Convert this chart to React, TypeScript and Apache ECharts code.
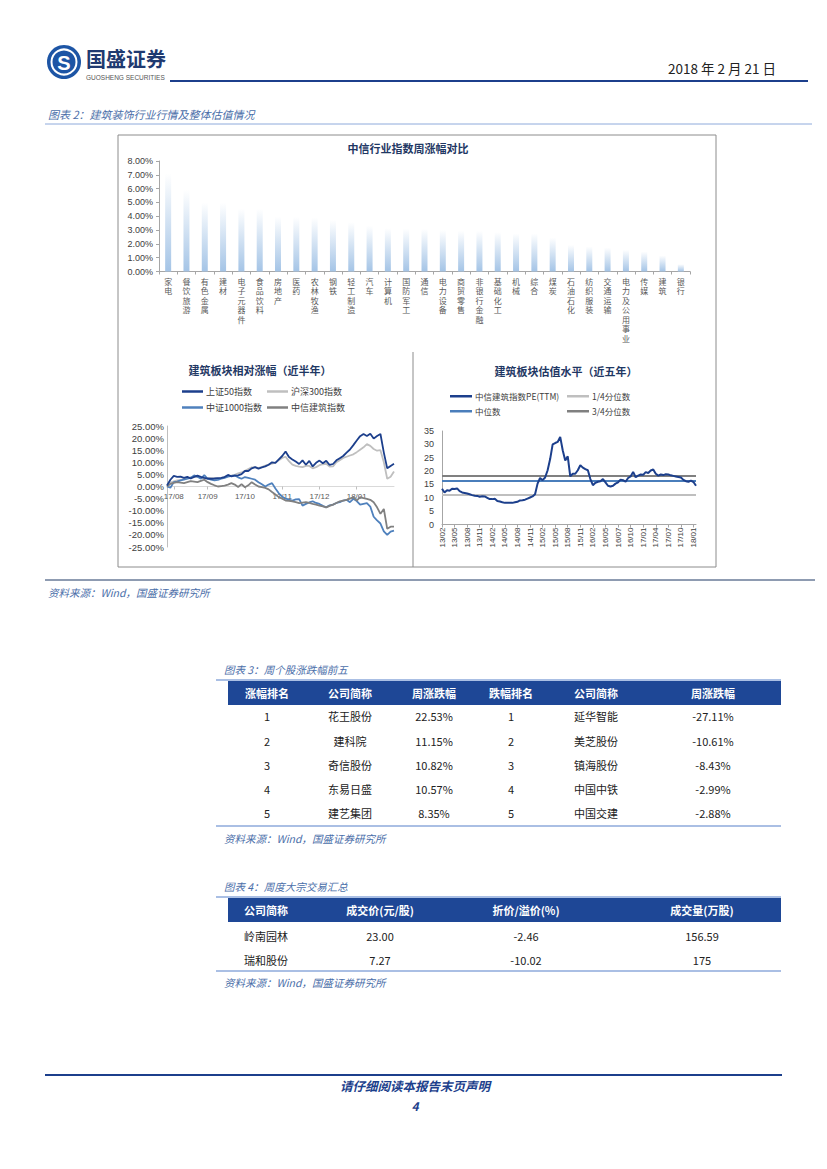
import React, { useEffect, useRef } from 'react';
import * as echarts from 'echarts';

// ---------- data ----------
const barCategories = ['家电','餐饮旅游','有色金属','建材','电子元器件','食品饮料','房地产','医药','农林牧渔','钢铁','轻工制造','汽车','计算机','国防军工','通信','电力设备','商贸零售','非银行金融','基础化工','机械','综合','煤炭','石油石化','纺织服装','交通运输','电力及公用事业','传媒','建筑','银行'];
const barValues = [7.11,5.90,5.00,4.98,4.56,4.53,3.97,3.95,3.90,3.73,3.57,3.32,3.13,3.10,3.08,3.01,2.95,2.94,2.85,2.76,2.75,2.46,1.93,1.81,1.73,1.57,1.45,1.16,0.53];

const relNames = ['上证50指数','沪深300指数','中证1000指数','中信建筑指数'];
const sz50 = [0.4,2.8,4.4,4.0,4.1,3.6,4.0,3.3,4.0,4.5,4.0,3.6,3.3,3.2,3.3,3.5,3.6,3.9,4.8,4.2,4.5,4.6,5.1,6.4,6.4,7.5,8.0,7.4,7.9,8.3,9.0,10.0,9.8,11.2,12.6,14.5,12.2,11.2,10.3,9.3,10.8,9.0,10.6,8.3,9.8,10.7,9.6,10.6,8.9,9.3,10.8,11.7,12.6,14.0,15.3,17.1,19.0,20.8,21.7,20.9,21.8,19.8,20.9,21.7,14.0,7.5,8.5,9.4];
const hs300 = [0,1.6,2.1,2.5,2.7,3.1,3.4,3.8,3.9,4.1,3.8,3.3,3.3,3.5,3.4,3.2,3.5,4.0,4.3,4.5,4.8,5.4,5.8,6.5,7.2,7.9,7.9,7.7,8.0,8.6,9.0,9.4,9.9,10.8,11.8,12.3,10.5,9.0,8.5,8.2,8.0,8.5,8.5,7.5,8.0,8.8,9.2,9.4,8.2,8.3,10.0,10.9,11.8,12.3,12.8,13.3,14.2,15.2,16.2,17.5,16.8,15.5,14.8,15.0,10.0,3.2,4.0,6.2];
const csi1000 = [0,-0.5,1.8,2.0,2.5,2.8,3.2,3.6,4.6,4.0,3.2,4.7,3.2,2.8,2.5,2.7,3.2,3.6,4.1,4.4,4.6,3.8,3.2,3.9,3.6,3.2,2.8,1.8,0.9,0,0.8,1.4,-0.8,-2.8,-4.2,-5.0,-5.4,-5.8,-5.3,-5.2,-7.9,-7.2,-6.6,-6.1,-6.8,-7.2,-8.0,-8.6,-7.8,-7.5,-6.8,-6.5,-5.8,-5.5,-6.5,-5.1,-6.0,-7.5,-7.2,-6.9,-8.3,-12.5,-14.0,-15.3,-18.5,-20.0,-18.6,-18.2];
const citicBuild = [0,1.1,1.5,1.8,1.6,1.4,1.8,2.2,2.0,1.8,2.3,2.8,1.8,1.1,0.5,0,0.2,0.4,0.8,1.4,0.8,-0.2,1.0,-0.3,0.5,1.8,0.8,0,-0.3,-0.6,-1.2,-2.3,-3.3,-4.4,-5.0,-5.8,-5.9,-6.1,-6.5,-6.9,-6.7,-6.5,-6.8,-7.2,-7.5,-7.9,-8.2,-8.6,-8.0,-7.5,-6.8,-6.1,-5.8,-5.5,-5.0,-4.4,-5.8,-4.4,-4.8,-5.1,-5.5,-6.5,-8.6,-11.3,-9.3,-17.5,-16.6,-16.6];
const relMonthLabels: Record<number, string> = { 2: '17/08', 12: '17/09', 23: '17/10', 34: '17/11', 45: '17/12', 56: '18/01' };

const peNames = ['中信建筑指数PE(TTM)','1/4分位数','中位数','3/4分位数'];
const peValues = [13.4,12.0,12.8,12.6,13.4,13.3,13.5,12.5,12.0,11.8,11.6,11.3,11.0,10.8,10.7,10.4,10.6,10.5,10.0,9.5,9.5,9.6,8.8,8.6,8.3,8.1,8.1,8.1,8.1,8.3,8.5,9.0,9.1,9.3,9.7,10.1,10.5,11.3,15.3,17.4,16.6,17.6,20.3,24.5,30.0,30.5,30.9,32.8,27.8,24.0,25.5,18.0,19.0,19.0,20.3,22.2,21.3,20.7,20.3,17.0,14.7,15.6,16.0,16.2,17.0,15.8,14.5,14.2,14.5,15.3,15.8,16.8,16.6,16.0,17.4,18.0,19.7,17.7,18.3,18.7,18.6,19.6,19.3,20.2,20.6,19.0,18.3,18.7,18.5,18.8,18.7,18.4,18.2,18.0,17.8,17.6,16.7,16.2,16.0,16.4,15.9,14.5];
const peTickLabels = ['13/02','13/05','13/08','13/11','14/02','14/05','14/08','14/11','15/02','15/05','15/08','15/11','16/02','16/05','16/07','16/10','17/01','17/04','17/07','17/10','18/01'];
const peQ1 = 11.2;
const peMedian = 16.3;
const peQ3 = 18.2;

const t3Header = ['涨幅排名','公司简称','周涨跌幅','跌幅排名','公司简称','周涨跌幅'];
const gainRank = ['1','2','3','4','5'];
const gainNames = ['花王股份','建科院','奇信股份','东易日盛','建艺集团'];
const gainPct = ['22.53%','11.15%','10.82%','10.57%','8.35%'];
const lossRank = ['1','2','3','4','5'];
const lossNames = ['延华智能','美芝股份','镇海股份','中国中铁','中国交建'];
const lossPct = ['-27.11%','-10.61%','-8.43%','-2.99%','-2.88%'];

const t4Header = ['公司简称','成交价(元/股)','折价/溢价(%)','成交量(万股)'];
const blockNames = ['岭南园林','瑞和股份'];
const blockPrice = ['23.00','7.27'];
const blockDiscount = ['-2.46','-10.02'];
const blockVolume = ['156.59','175'];

// ---------- styles ----------
const FONT = '"Liberation Sans", Arial, "Noto Sans CJK SC", sans-serif';
const CJK = '"Noto Sans CJK SC", sans-serif';
const NAVY = '#1c3f8c';
const HEAD_BLUE = '#1e4796';
const CAPTION = '#4a6ea9';
const TITLE = '#1f3864';

function txt(x: number, y: number, text: string, o: any = {}) {
  return {
    type: 'text', x, y, silent: true,
    style: {
      text, fill: o.fill || '#222', fontSize: o.size || 11, fontFamily: o.font || CJK,
      fontWeight: o.weight || 'normal', fontStyle: o.style || 'normal',
      align: o.align || 'left', verticalAlign: o.va || 'middle',
    },
  };
}
function hline(x1: number, x2: number, y: number, color: string, w = 1) {
  return { type: 'line', silent: true, shape: { x1, y1: y, x2, y2: y }, style: { stroke: color, lineWidth: w } };
}
function vline(x: number, y1: number, y2: number, color: string, w = 1) {
  return { type: 'line', silent: true, shape: { x1: x, y1, x2: x, y2 }, style: { stroke: color, lineWidth: w } };
}

function buildGraphics() {
  const g: any[] = [];
  // header
  g.push({ type: 'circle', shape: { cx: 64, cy: 62, r: 17 }, style: { fill: '#1d55a5' } });
  g.push({ type: 'circle', shape: { cx: 64, cy: 62, r: 12.5 }, style: { fill: 'none', stroke: '#fff', lineWidth: 2 } });
  g.push(txt(64, 63, 'S', { size: 20, weight: 'bold', fill: '#fff', align: 'center', font: FONT }));
  g.push(txt(86, 58, '国盛证券', { size: 20, weight: 'bold', fill: '#1f3a70' }));
  g.push(txt(86, 77.5, 'GUOSHENG SECURITIES', { size: 6.5, fill: '#555', font: FONT }));
  g.push(txt(776, 68, '2018 年 2 月 21 日', { size: 13.5, align: 'right', fill: '#222' }));
  g.push(hline(170, 808, 81, NAVY, 2));
  // figure 2 caption
  g.push(txt(48, 114, '图表 2：建筑装饰行业行情及整体估值情况', { size: 11, style: 'italic', fill: CAPTION }));
  g.push(hline(45, 812, 124, '#8eaadb', 1));
  // figure frame
  g.push({ type: 'rect', silent: true, shape: { x: 118, y: 135, width: 598, height: 432 }, style: { fill: 'none', stroke: '#8c8c8c', lineWidth: 1 } });
  g.push(vline(413, 352, 567, '#8c8c8c', 1));
  g.push(txt(408, 148, '中信行业指数周涨幅对比', { size: 11, weight: 'bold', fill: TITLE, align: 'center' }));
  g.push(txt(260, 370, '建筑板块相对涨幅（近半年）', { size: 11, weight: 'bold', fill: TITLE, align: 'center' }));
  g.push(txt(566, 371, '建筑板块估值水平（近五年）', { size: 11, weight: 'bold', fill: TITLE, align: 'center' }));
  g.push(hline(45, 815, 580, TITLE, 1));
  g.push(txt(48, 592, '资料来源：Wind，国盛证券研究所', { size: 10.5, style: 'italic', fill: CAPTION }));

  // table 3
  const t3Cols = [267, 350, 434, 511, 596, 713];
  const t3Rows = [716, 741, 765, 789, 813];
  g.push(txt(224, 669, '图表 3：周个股涨跌幅前五', { size: 10.5, style: 'italic', fill: CAPTION }));
  g.push(hline(216, 781, 680, '#8eaadb', 1.5));
  g.push({ type: 'rect', silent: true, shape: { x: 228, y: 681, width: 553, height: 24 }, style: { fill: HEAD_BLUE } });
  t3Header.forEach((h, i) => g.push(txt(t3Cols[i], 693, h, { size: 11, weight: 'bold', fill: '#fff', align: 'center' })));
  const t3Data = [gainRank, gainNames, gainPct, lossRank, lossNames, lossPct];
  t3Data.forEach((col, ci) => col.forEach((v, ri) => g.push(txt(t3Cols[ci], t3Rows[ri], v, { size: 11, fill: '#222', align: 'center' }))));
  g.push(hline(216, 781, 826, '#8eaadb', 1.5));
  g.push(txt(224, 838, '资料来源：Wind，国盛证券研究所', { size: 10.5, style: 'italic', fill: CAPTION }));

  // table 4
  const t4Cols = [266, 380, 526, 702];
  const t4Rows = [936, 960];
  g.push(txt(224, 886, '图表 4：周度大宗交易汇总', { size: 10.5, style: 'italic', fill: CAPTION }));
  g.push(hline(216, 781, 897, '#8eaadb', 1.5));
  g.push({ type: 'rect', silent: true, shape: { x: 228, y: 898, width: 553, height: 24 }, style: { fill: HEAD_BLUE } });
  t4Header.forEach((h, i) => g.push(txt(t4Cols[i], 910, h, { size: 11, weight: 'bold', fill: '#fff', align: 'center' })));
  const t4Data = [blockNames, blockPrice, blockDiscount, blockVolume];
  t4Data.forEach((col, ci) => col.forEach((v, ri) => g.push(txt(t4Cols[ci], t4Rows[ri], v, { size: 11, fill: '#222', align: 'center' }))));
  g.push(hline(216, 781, 971, '#8eaadb', 1.5));
  g.push(txt(224, 982, '资料来源：Wind，国盛证券研究所', { size: 10.5, style: 'italic', fill: CAPTION }));

  // footer
  g.push(hline(45, 782, 1075, NAVY, 2));
  g.push(txt(415, 1085, '请仔细阅读本报告末页声明', { size: 12.5, weight: 'bold', style: 'italic', fill: NAVY, align: 'center' }));
  g.push(txt(415, 1105, '4', { size: 12, weight: 'bold', style: 'italic', fill: NAVY, align: 'center' }));
  return g;
}

function legendItem(name: string, left: number, centerY: number, w: number, fs: number) {
  return {
    data: [name], left, top: centerY - 6, padding: 0, icon: 'rect', itemWidth: w, itemHeight: 2.5, itemGap: 0,
    selectedMode: false,
    textStyle: { fontSize: fs, color: '#404040', fontFamily: CJK, padding: [0, 0, 0, -2] },
  };
}

function buildOption(): any {
  const relCats = sz50.map((_, i) => String(i));
  const peCats = peValues.map((_, i) => String(i));
  const relColors = ['#1c3f8c', '#bfbfbf', '#4f81bd', '#808080'];
  const relData = [sz50, hs300, csi1000, citicBuild];
  const axisGrey = '#a6a6a6';
  const relTop = 426, relHeight = 121, relMin = -25, relMax = 25;
  const zeroOffset = -relHeight * (0 - relMin) / (relMax - relMin); // move axis up from bottom to the zero line
  return {
    animation: false,
    backgroundColor: '#fff',
    textStyle: { fontFamily: FONT },
    grid: [
      { left: 159, top: 161, width: 531, height: 110.5 },
      { left: 167, top: relTop, width: 227, height: relHeight },
      { left: 442, top: 431, width: 254, height: 93.5 },
    ],
    legend: [
      legendItem(relNames[0], 182, 393, 21, 9),
      legendItem(relNames[1], 267, 393, 21, 9),
      legendItem(relNames[2], 182, 409, 21, 9),
      legendItem(relNames[3], 267, 409, 21, 9),
      legendItem(peNames[0], 450, 398, 22, 8.5),
      legendItem(peNames[1], 567, 398, 22, 8.5),
      legendItem(peNames[2], 450, 413, 22, 8.5),
      legendItem(peNames[3], 567, 413, 22, 8.5),
    ],
    xAxis: [
      {
        gridIndex: 0, type: 'category', data: barCategories,
        axisLine: { lineStyle: { color: axisGrey } },
        axisTick: { show: true, length: 3, lineStyle: { color: axisGrey } },
        axisLabel: {
          interval: 0, fontSize: 8, lineHeight: 9.5, color: '#595959', margin: 5, fontFamily: CJK,
          verticalAlign: 'top',
          formatter: (v: string) => v.split('').join('\n'),
        },
      },
      {
        gridIndex: 1, type: 'category', data: relCats, boundaryGap: false,
        position: 'bottom', offset: zeroOffset,
        axisLine: { onZero: false, lineStyle: { color: '#d9d9d9' } },
        axisTick: { show: true, length: 3, interval: (i: number) => relMonthLabels[i] !== undefined, lineStyle: { color: '#bfbfbf' } },
        axisLabel: {
          interval: 0, fontSize: 8, color: '#595959', margin: 6,
          formatter: (_v: string, i: number) => relMonthLabels[i] || '',
        },
      },
      {
        gridIndex: 2, type: 'category', data: peCats, boundaryGap: false,
        axisLine: { lineStyle: { color: axisGrey } },
        axisTick: { show: true, length: 3, interval: 4, lineStyle: { color: axisGrey } },
        axisLabel: {
          interval: 4, rotate: 90, fontSize: 8, color: '#404040', margin: 3,
          formatter: (_v: string, i: number) => peTickLabels[i / 5] || '',
        },
      },
    ],
    yAxis: [
      {
        gridIndex: 0, type: 'value', min: 0, max: 8, interval: 1,
        splitLine: { show: false },
        axisLine: { show: true, lineStyle: { color: axisGrey } },
        axisTick: { show: true, length: 3, lineStyle: { color: axisGrey } },
        axisLabel: { fontSize: 9, color: '#404040', margin: 6, formatter: (v: number) => v.toFixed(2) + '%' },
      },
      {
        gridIndex: 1, type: 'value', min: relMin, max: relMax, interval: 5,
        splitLine: { show: false },
        axisLine: { show: true, lineStyle: { color: '#bfbfbf' } },
        axisTick: { show: false },
        axisLabel: { fontSize: 9.5, color: '#404040', margin: 3, formatter: (v: number) => v.toFixed(2) + '%' },
      },
      {
        gridIndex: 2, type: 'value', min: 0, max: 35, interval: 5,
        splitLine: { show: false },
        axisLine: { show: true, lineStyle: { color: axisGrey } },
        axisTick: { show: false },
        axisLabel: { fontSize: 9, color: '#404040', margin: 8 },
      },
    ],
    series: [
      {
        type: 'bar', xAxisIndex: 0, yAxisIndex: 0, data: barValues, barWidth: 6,
        itemStyle: {
          color: new echarts.graphic.LinearGradient(0, 0, 0, 1, [
            { offset: 0, color: '#ffffff' },
            { offset: 1, color: '#a4c4e6' },
          ]),
        },
      },
      ...relData.map((d, i) => ({
        name: relNames[i], type: 'line', xAxisIndex: 1, yAxisIndex: 1, data: d,
        showSymbol: false, symbol: 'none', z: i === 0 ? 5 : 3,
        lineStyle: { color: relColors[i], width: 1.8 }, itemStyle: { color: relColors[i] },
      })),
      {
        name: peNames[0], type: 'line', xAxisIndex: 2, yAxisIndex: 2, data: peValues,
        showSymbol: false, symbol: 'none', z: 5,
        lineStyle: { color: '#1c3f8c', width: 2 }, itemStyle: { color: '#1c3f8c' },
      },
      ...[[peNames[1], peQ1, '#bfbfbf'], [peNames[2], peMedian, '#4a7ebb'], [peNames[3], peQ3, '#808080']].map(([n, v, c]) => ({
        name: n, type: 'line', xAxisIndex: 2, yAxisIndex: 2, data: [],
        lineStyle: { color: c, width: 2 }, itemStyle: { color: c },
        markLine: {
          silent: true, symbol: 'none', label: { show: false },
          lineStyle: { color: c, width: 2, type: 'solid' },
          data: [{ yAxis: v }],
        },
      })),
    ],
    graphic: buildGraphics(),
  };
}

export default function App() {
  const ref = useRef<HTMLDivElement>(null);
  useEffect(() => {
    const chart = echarts.init(ref.current!, null, { renderer: 'svg' });
    chart.setOption(buildOption());
    return () => chart.dispose();
  }, []);
  return (
    <div
      ref={ref}
      style={{ position: 'absolute', left: 0, top: 0, width: 827, height: 1169, background: '#fff' }}
    />
  );
}
